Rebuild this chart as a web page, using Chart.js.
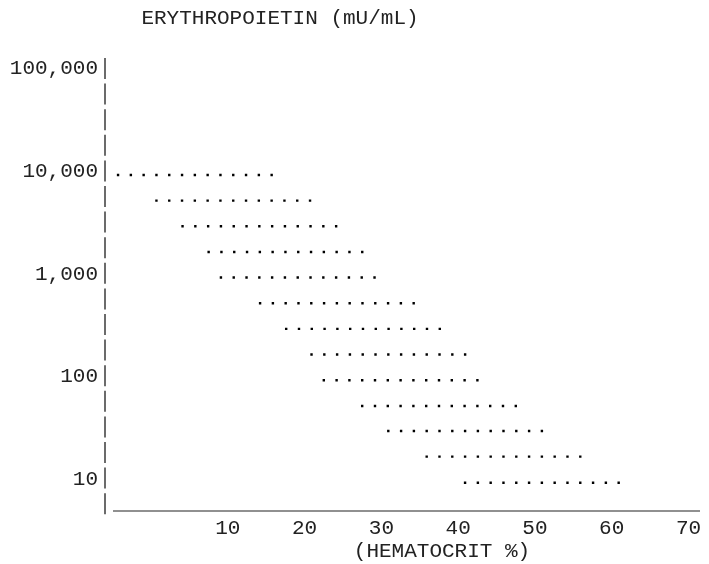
<!DOCTYPE html>
<html>
<head>
<meta charset="utf-8">
<title>Erythropoietin vs hematocrit</title>
<script src="https://cdn.jsdelivr.net/npm/chart.js@4.4.1/dist/chart.umd.min.js"></script>
<style>
  html, body { margin: 0; padding: 0; background: #fff; }
  canvas { display: block; }
</style>
</head>
<body>
<canvas id="epoChart" width="709" height="564"></canvas>
<script>
// axis tick values
const hematocritTicks = [10, 20, 30, 40, 50, 60, 70];
const epoTicks = [10, 100, 1000, 10000, 100000];

// each dotted row: EPO level and the hematocrit range it covers
const epoLevels = [10000, 5623, 3162, 1778, 1000, 562, 316, 178, 100, 56, 32, 18, 10];
const rangeStart = [-4.3, 0.7, 4.1, 7.5, 9.1, 14.2, 17.6, 20.9, 22.5, 27.5, 30.9, 35.9, 40.9];
const rangeEnd = [16.0, 21.1, 24.4, 27.8, 29.4, 34.4, 37.7, 41.1, 42.7, 47.7, 51.0, 56.0, 61.0];

const MONO = '"Liberation Mono", "Courier New", monospace';

const datasets = epoLevels.map((level, i) => ({
    label: String(level),
    data: [
        { x: rangeStart[i], y: level },
        { x: rangeEnd[i], y: level }
    ],
    showLine: true,
    borderColor: '#000',
    borderWidth: 2.4,
    borderDash: [0, 12.8],
    borderCapStyle: 'square',
    pointRadius: 0,
    pointHoverRadius: 0
}));

// typed-looking axes: a broken "|" column and an underscore rule
const asciiAxes = {
    id: 'asciiAxes',
    beforeDatasetsDraw(chart) {
        const { ctx, chartArea } = chart;
        ctx.save();
        ctx.strokeStyle = '#6b6b6b';
        ctx.lineWidth = 2;
        ctx.setLineDash([21, 4.6]);
        ctx.beginPath();
        ctx.moveTo(chartArea.left, chartArea.top);
        ctx.lineTo(chartArea.left, chartArea.bottom + 5);
        ctx.stroke();
        ctx.setLineDash([]);
        ctx.lineWidth = 1.5;
        ctx.beginPath();
        ctx.moveTo(chartArea.left + 8, chartArea.bottom);
        ctx.lineTo(chartArea.right, chartArea.bottom);
        ctx.stroke();
        ctx.restore();
    },
    // title and axis caption sit off-centre, like the typed original
    afterDraw(chart) {
        const ctx = chart.ctx;
        ctx.save();
        ctx.font = '21px ' + MONO;
        ctx.fillStyle = '#222';
        ctx.textAlign = 'center';
        ctx.textBaseline = 'middle';
        ctx.fillText('ERYTHROPOIETIN (mU/mL)', 280, 18);
        ctx.fillText('(HEMATOCRIT %)', 442, 551);
        ctx.restore();
    }
};

new Chart(document.getElementById('epoChart').getContext('2d'), {
    type: 'scatter',
    data: { datasets },
    options: {
        responsive: false,
        animation: false,
        layout: { padding: { top: 58, right: 9, left: 0, bottom: 0 } },
        plugins: {
            legend: { display: false },
            tooltip: { enabled: false }
        },
        scales: {
            x: {
                type: 'linear',
                min: -6,
                max: 71.5,
                afterBuildTicks: s => { s.ticks = hematocritTicks.map(v => ({ value: v })); },
                afterFit: s => { s.height = 53; s.paddingLeft = 0; s.paddingRight = 0; },
                grid: { display: false, drawTicks: false },
                border: { display: false },
                ticks: {
                    color: '#222',
                    padding: 5,
                    maxRotation: 0,
                    font: { family: MONO, size: 21 },
                    callback: v => String(v)
                }
            },
            y: {
                type: 'logarithmic',
                min: 5.31,
                max: 138000,
                afterBuildTicks: s => { s.ticks = epoTicks.map(v => ({ value: v })); },
                afterFit: s => { s.width = 105; s.paddingTop = 0; s.paddingBottom = 0; },
                grid: { display: false, drawTicks: false },
                border: { display: false },
                ticks: {
                    color: '#222',
                    padding: 7,
                    labelOffset: -3.5,
                    font: { family: MONO, size: 21 },
                    callback: v => v.toLocaleString('en-US')
                }
            }
        }
    },
    plugins: [asciiAxes]
});
</script>
</body>
</html>
